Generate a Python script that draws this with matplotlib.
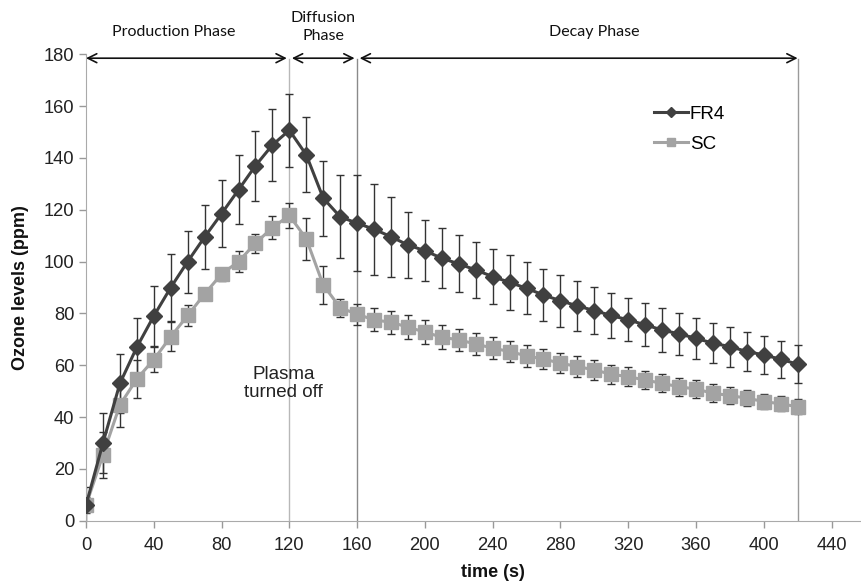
import matplotlib
matplotlib.use("Agg")
import matplotlib.pyplot as plt

plt.rcParams["font.family"] = ["Liberation Sans", "DejaVu Sans"]

time_s = list(range(0, 430, 10))

fr4_mean = [6, 30, 53, 67, 79, 90, 100, 109.5, 118.5, 127.7, 137, 145, 150.7,
            141.2, 124.5, 117.3, 114.8, 112.5, 109.6, 106.4, 104.2, 101.3, 99.1,
            96.8, 94.2, 92, 89.7, 87.1, 84.9, 82.9, 81.1, 79.2, 77.5, 75.6, 73.6,
            72.1, 70.4, 68.5, 67.2, 65.3, 64, 62.3, 60.4]
fr4_err = [7, 11.6, 11.4, 11.3, 11.5, 13, 12, 12.2, 13, 13.3, 13.5, 14, 14,
           14.5, 14.5, 16, 18.5, 17.5, 15.5, 12.7, 11.7, 11.5, 11, 10.7, 10.7,
           10.5, 10, 10, 10, 9.6, 9, 8.8, 8.3, 8.3, 8.3, 8.2, 7.9, 7.7, 7.7,
           7.5, 7.4, 7.2, 7.3]

sc_mean = [6, 25.4, 44.7, 54.7, 62.2, 71, 79.2, 87.5, 95.2, 100, 107.1, 113.1,
           117.8, 108.8, 91, 82.2, 79.7, 77.5, 76.6, 74.7, 72.8, 70.8, 69.8,
           68.2, 66.6, 65.3, 63.6, 62.4, 60.8, 59.5, 58.2, 56.5, 55.6, 54.3, 53,
           51.7, 50.8, 49.2, 48.3, 47.3, 46, 45.1, 44]
sc_err = [3, 9, 8.5, 7.2, 5, 5.5, 4, 2.5, 2.5, 4, 3.7, 4.5, 5, 8, 7.2, 3.5, 4,
          4.4, 4.5, 4.5, 4.5, 4.7, 4.3, 4.2, 4.2, 4.1, 4.1, 3.9, 3.9, 3.9, 3.9,
          3.7, 3.7, 3.5, 3.5, 3.4, 3.4, 3.4, 3.2, 3, 3, 2.9, 3]

phase_edges = [0, 120, 160, 420]
phase_names = ["Production Phase", "Diffusion\nPhase", "Decay Phase"]
phase_label_x = [52, 140, 300]

x_ticks = list(range(0, 441, 40))
y_ticks = list(range(0, 181, 20))

FR4_COLOR = "#404040"
SC_COLOR = "#a3a3a3"
ERR_COLOR = "#333333"

fig = plt.figure(figsize=(8.62, 5.84), dpi=100)
ax = fig.add_axes([0.0998, 0.1084, 0.9002, 0.7986])

# phase boundaries
for x, c in zip(phase_edges[1:], ["#b8b8b8", "#8a8a8a", "#9a9a9a"]):
    ax.plot([x, x], [0, 178], color=c, linewidth=1, zorder=1)

ax.errorbar(time_s, fr4_mean, yerr=fr4_err, fmt="none", ecolor=ERR_COLOR,
            elinewidth=1, capsize=3.2, capthick=1, zorder=2)
ax.errorbar(time_s, sc_mean, yerr=sc_err, fmt="none", ecolor=ERR_COLOR,
            elinewidth=1, capsize=3.2, capthick=1, zorder=2)

ax.plot(time_s, fr4_mean, color=FR4_COLOR, linewidth=2.2, marker="D",
        markersize=8.5, label="FR4", zorder=4)
ax.plot(time_s, sc_mean, color=SC_COLOR, linewidth=2.2, marker="s",
        markersize=9.5, label="SC", zorder=3)

# phase arrows and labels
gaps = [0, 1.5, 1.5]
for i, name in enumerate(phase_names):
    x0 = phase_edges[i] + gaps[i]
    x1 = phase_edges[i + 1] - (1.5 if i < 2 else 0)
    ax.annotate("", xy=(x1, 178.5), xytext=(x0, 178.5),
                arrowprops=dict(arrowstyle="<->", color="#111111", lw=1.2,
                                mutation_scale=16, shrinkA=0, shrinkB=0),
                annotation_clip=False)
    ax.text(phase_label_x[i], 188.5 if i != 1 else 190.5, name,
            ha="center", va="center", fontsize=11.5, family=["Lato", "DejaVu Sans"],
            color="#111111", linespacing=1.3, clip_on=False)

ax.text(116.5, 53, "Plasma\nturned off", ha="center", va="center",
        fontsize=13.5, color="#222222", linespacing=1.1)

ax.set_xlim(0, 458)
ax.set_ylim(0, 180)
ax.set_xticks(x_ticks)
ax.set_yticks(y_ticks)
ax.tick_params(axis="both", labelsize=13.2, colors="#222222", length=5,
               color="#999999", width=1)
ax.tick_params(axis="x", pad=7)

for side in ["top", "right"]:
    ax.spines[side].set_visible(False)
for side in ["left", "bottom"]:
    ax.spines[side].set_color("#aaaaaa")

ax.set_ylabel("Ozone levels (ppm)", fontsize=13, fontweight="bold", color="#111111")
ax.yaxis.set_label_coords(-0.074, 0.5)
ax.set_xlabel("time (s)", fontsize=13, fontweight="bold", color="#111111")
ax.xaxis.set_label_coords((492.5 - 86) / 776, -0.093)

ax.legend(loc="upper left", bbox_to_anchor=(0.72, 0.91), frameon=False,
          fontsize=13.5, markerscale=0.6, handlelength=1.8, handletextpad=0.1,
          borderpad=0, labelspacing=0.7)

fig.savefig("out.png", dpi=100)
